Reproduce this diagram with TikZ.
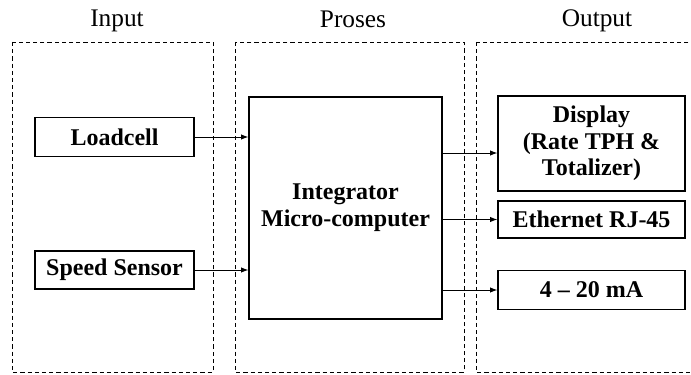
\documentclass[tikz,border=0pt]{standalone}
\usepackage{fontspec}
\setmainfont{Liberation Serif}
\usetikzlibrary{arrows.meta}
\begin{document}
\begin{tikzpicture}[x=0.75pt,y=-0.75pt,
  grp/.style={draw, line width=0.7pt, dash pattern=on 3.2pt off 2.2pt},
  blk/.style={draw, line width=0.8pt, font=\fontsize{18}{20}\selectfont\bfseries, align=center, inner sep=0pt},
  ttl/.style={font=\fontsize{19}{21}\selectfont, anchor=base},
  arr/.style={-{Latex[length=5.5pt,width=4pt]}, line width=0.7pt}]
\useasboundingbox (0,0) rectangle (691,374);
% groups
\draw[grp] (12,42) rectangle (213,372);
\draw[grp] (235,42) rectangle (464,372);
\draw[grp] (476,42) rectangle (695,372);
% titles
\node[ttl] (tin) at (117,27) {Input};
\node[ttl] (tpr) at (353,28) {Proses};
\node[ttl] (tout) at (597,27) {Output};
% blocks
\node[blk, minimum width=119.25pt, minimum height=29.25pt] (load) at (114.5,137) {Loadcell};
\node[blk, minimum width=119.25pt, minimum height=28.5pt] (speed) at (114.5,270) {Speed Sensor};
\node[blk, minimum width=144.75pt, minimum height=166.5pt] (integ) at (345.5,208) {Integrator\\Micro-computer};
\node[blk, minimum width=140.25pt, minimum height=71.25pt] (disp) at (591.5,143.5) {Display\\(Rate TPH \&\\Totalizer)};
\node[blk, minimum width=140.25pt, minimum height=27.75pt] (eth) at (591.5,219.5) {Ethernet RJ-45};
\node[blk, minimum width=140.25pt, minimum height=29.25pt] (ma) at (591.5,290) {4 -- 20 mA};
% arrows
\draw[arr] (load.east) -- (load.east -| integ.west);
\draw[arr] (speed.east) -- (speed.east -| integ.west);
\draw[arr] (integ.east |- 0,153) -- (disp.west |- 0,153);
\draw[arr] (integ.east |- eth.west) -- (eth.west);
\draw[arr] (integ.east |- ma.west) -- (ma.west);
\end{tikzpicture}
\end{document}
